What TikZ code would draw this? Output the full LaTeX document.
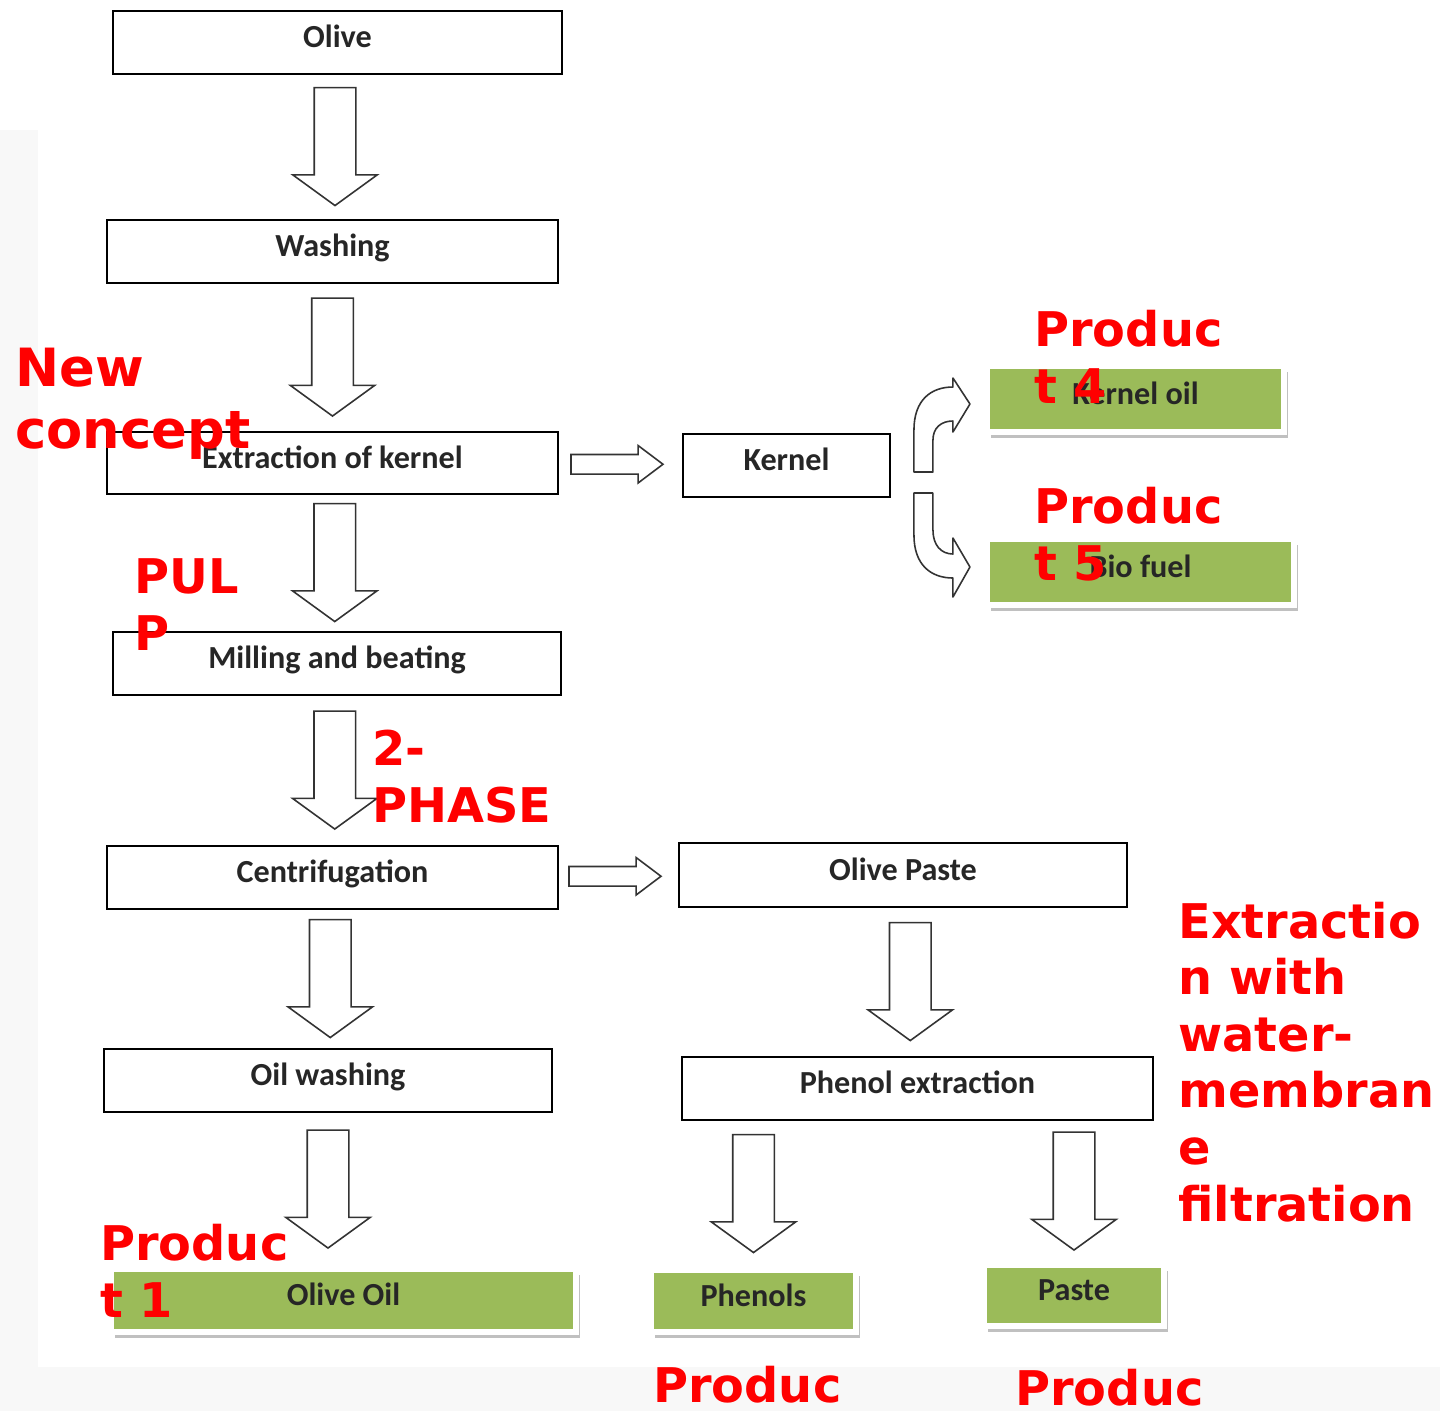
\documentclass[tikz,border=0pt]{standalone}
\usepackage{fontspec}
\newfontfamily\boxfont{Carlito}
\newfontfamily\redfont{DejaVu Sans}
\usetikzlibrary{shapes.arrows,positioning,calc,shadows}
\definecolor{prodgreen}{RGB}{155,187,89}
\definecolor{pagegrey}{RGB}{248,248,248}

\begin{document}
\begin{tikzpicture}
  [
    x=0.02cm, y=-0.02cm,
    stage/.style={draw, line width=1.1pt, inner sep=0pt, minimum height=1.26cm, font=\boxfont\bfseries\fontsize{18.3}{22}\selectfont, text=black!85, text height=0.7em, text depth=0.1em},
    prod/.style={stage, draw=white, line width=3.4pt, fill=prodgreen, drop shadow={shadow xshift=2.3pt, shadow yshift=-3.4pt, fill=black!35, opacity=.7}},
    downarr/.style={single arrow, draw=black!80, fill=white, line width=0.9pt, rotate=-90, xshift=-0.16cm, inner xsep=0pt, inner ysep=0.4cm, minimum height=2.36cm, single arrow head extend=0.43cm, single arrow tip angle=108},
    sidearr/.style={single arrow, draw=black!80, fill=white, line width=0.9pt, xshift=-0.2cm, inner xsep=0pt, inner ysep=0.18cm, minimum height=1.84cm, single arrow head extend=0.18cm, single arrow tip angle=74},
    bentarr/.style={draw=black!80, fill=white, line width=0.9pt, line join=round},
    note/.style={text=red, inner sep=0pt, anchor=base west, align=left, font=\redfont\bfseries\fontsize{27.2}{32.2}\selectfont}
  ]
  \useasboundingbox (0,0) rectangle (1440,1411);
  \clip (0,0) rectangle (1440,1411);
  \fill[pagegrey] (0,0) rectangle (1440,1411);
  \fill[white] (0,0) -- (1440,0) -- (1440,1367) -- (38,1367) -- (38,130) -- (0,130) -- cycle;

  \node[stage, minimum width=8.98cm] (olive) at (337.5,42.5) {Olive};
  \node[stage, minimum width=9.02cm] (washing) at (332.5,251.5) {Washing};
  \node[stage, minimum width=9.02cm, minimum height=1.24cm] (extract) at (332.5,463) {Extraction of kernel};
  \node[stage, minimum width=4.14cm] (kernel) at (786.5,465.5) {Kernel};
  \node[stage, minimum width=8.96cm] (milling) at (337,663.5) {Milling and beating};
  \node[stage, minimum width=9.02cm] (centrif) at (332.5,877.5) {Centrifugation};
  \node[stage, minimum width=8.96cm, minimum height=1.28cm] (paste) at (903,875) {Olive Paste};
  \node[stage, minimum width=8.96cm] (oilwash) at (328,1080.5) {Oil washing};
  \node[stage, minimum width=9.42cm] (phenolx) at (917.5,1088.5) {Phenol extraction};

  \node[prod, minimum width=5.94cm, minimum height=1.32cm] (kerneloil) at (1135.5,399) {Kernel oil};
  \node[prod, minimum width=6.14cm, minimum height=1.32cm] (biofuel) at (1140.5,572) {Bio fuel};
  \node[prod, minimum width=9.3cm] (oliveoil) at (343.5,1300.5) {Olive Oil};
  \node[prod, minimum width=4.1cm, minimum height=1.24cm] (phenols) at (753.5,1301) {Phenols};
  \node[prod, minimum width=3.6cm, minimum height=1.22cm] (pastep) at (1074,1295.5) {Paste};

  \node[downarr] (a1) at ($(olive.south)!.5!(washing.north)$) {};
  \node[downarr] (a2) at ($(washing.south)!.5!(extract.north)$) {};
  \node[downarr] (a3) at ($(extract.south)!.5!(milling.north)$) {};
  \node[downarr] (a4) at ($(milling.south)!.5!(centrif.north)$) {};
  \node[downarr] (a5) at ($(centrif.south)!.5!(oilwash.north)$) {};
  \node[downarr] (a6) at ($(oilwash.south)!.5!(oilwash.south |- oliveoil.north)$) {};
  \node[downarr] (a7) at ($(paste.south)!.5!(phenolx.north)$) {};
  \node[downarr] (a8) at ($(phenolx.south -| phenols.north)!.5!(phenols.north)$) {};
  \node[downarr] (a9) at ($(phenolx.south -| pastep.north)!.5!(pastep.north)$) {};
  \node[sidearr] (s1) at ($(extract.east)!.5!(kernel.west)$) {};
  \node[sidearr] (s2) at ($(centrif.east)!.5!(paste.west)$) {};

  % bent arrows out of the kernel
  \begin{scope}[shift={(kernel.east)}]
    \draw[bentarr] (23,6.5) -- (23,-35.5) .. controls (23,-65.5) and (40,-78.5) .. (62,-78.5) -- (62,-87.5) -- (79,-61.5) -- (62,-33.5) -- (62,-44.5) .. controls (50,-44.5) and (42,-37.5) .. (42,-25.5) -- (42,6.5) -- cycle;
    \draw[bentarr] (23,27.5) -- (23,69.5) .. controls (23,99.5) and (40,112.5) .. (62,112.5) -- (62,131.5) -- (79,101.5) -- (62,72.5) -- (62,88.5) .. controls (50,88.5) and (42,79.5) .. (42,64.5) -- (42,27.5) -- cycle;
  \end{scope}

  % red remarks (base = last line)
  \node[note, font=\redfont\bfseries\fontsize{30}{35}\selectfont] (newcon) at (15,448) {New\\concept};
  \node[note] (pulp) at (134,650) {PUL\\P};
  \node[note] (phase) at (372,822) {2-\\PHASE};
  \node[note] (prodfour) at (1034,403) {Produc\\t 4};
  \node[note] (prodfive) at (1034,580) {Produc\\t 5};
  \node[note] (membr) at (1178,1221) {Extractio\\n with\\water-\\membran\\e\\filtration};
  \node[note] (prodone) at (100,1317) {Produc\\t 1};
  \node[note] (prodtwo) at (653,1402) {Produc};
  \node[note] (prodthree) at (1015,1405) {Produc};
\end{tikzpicture}
\end{document}
